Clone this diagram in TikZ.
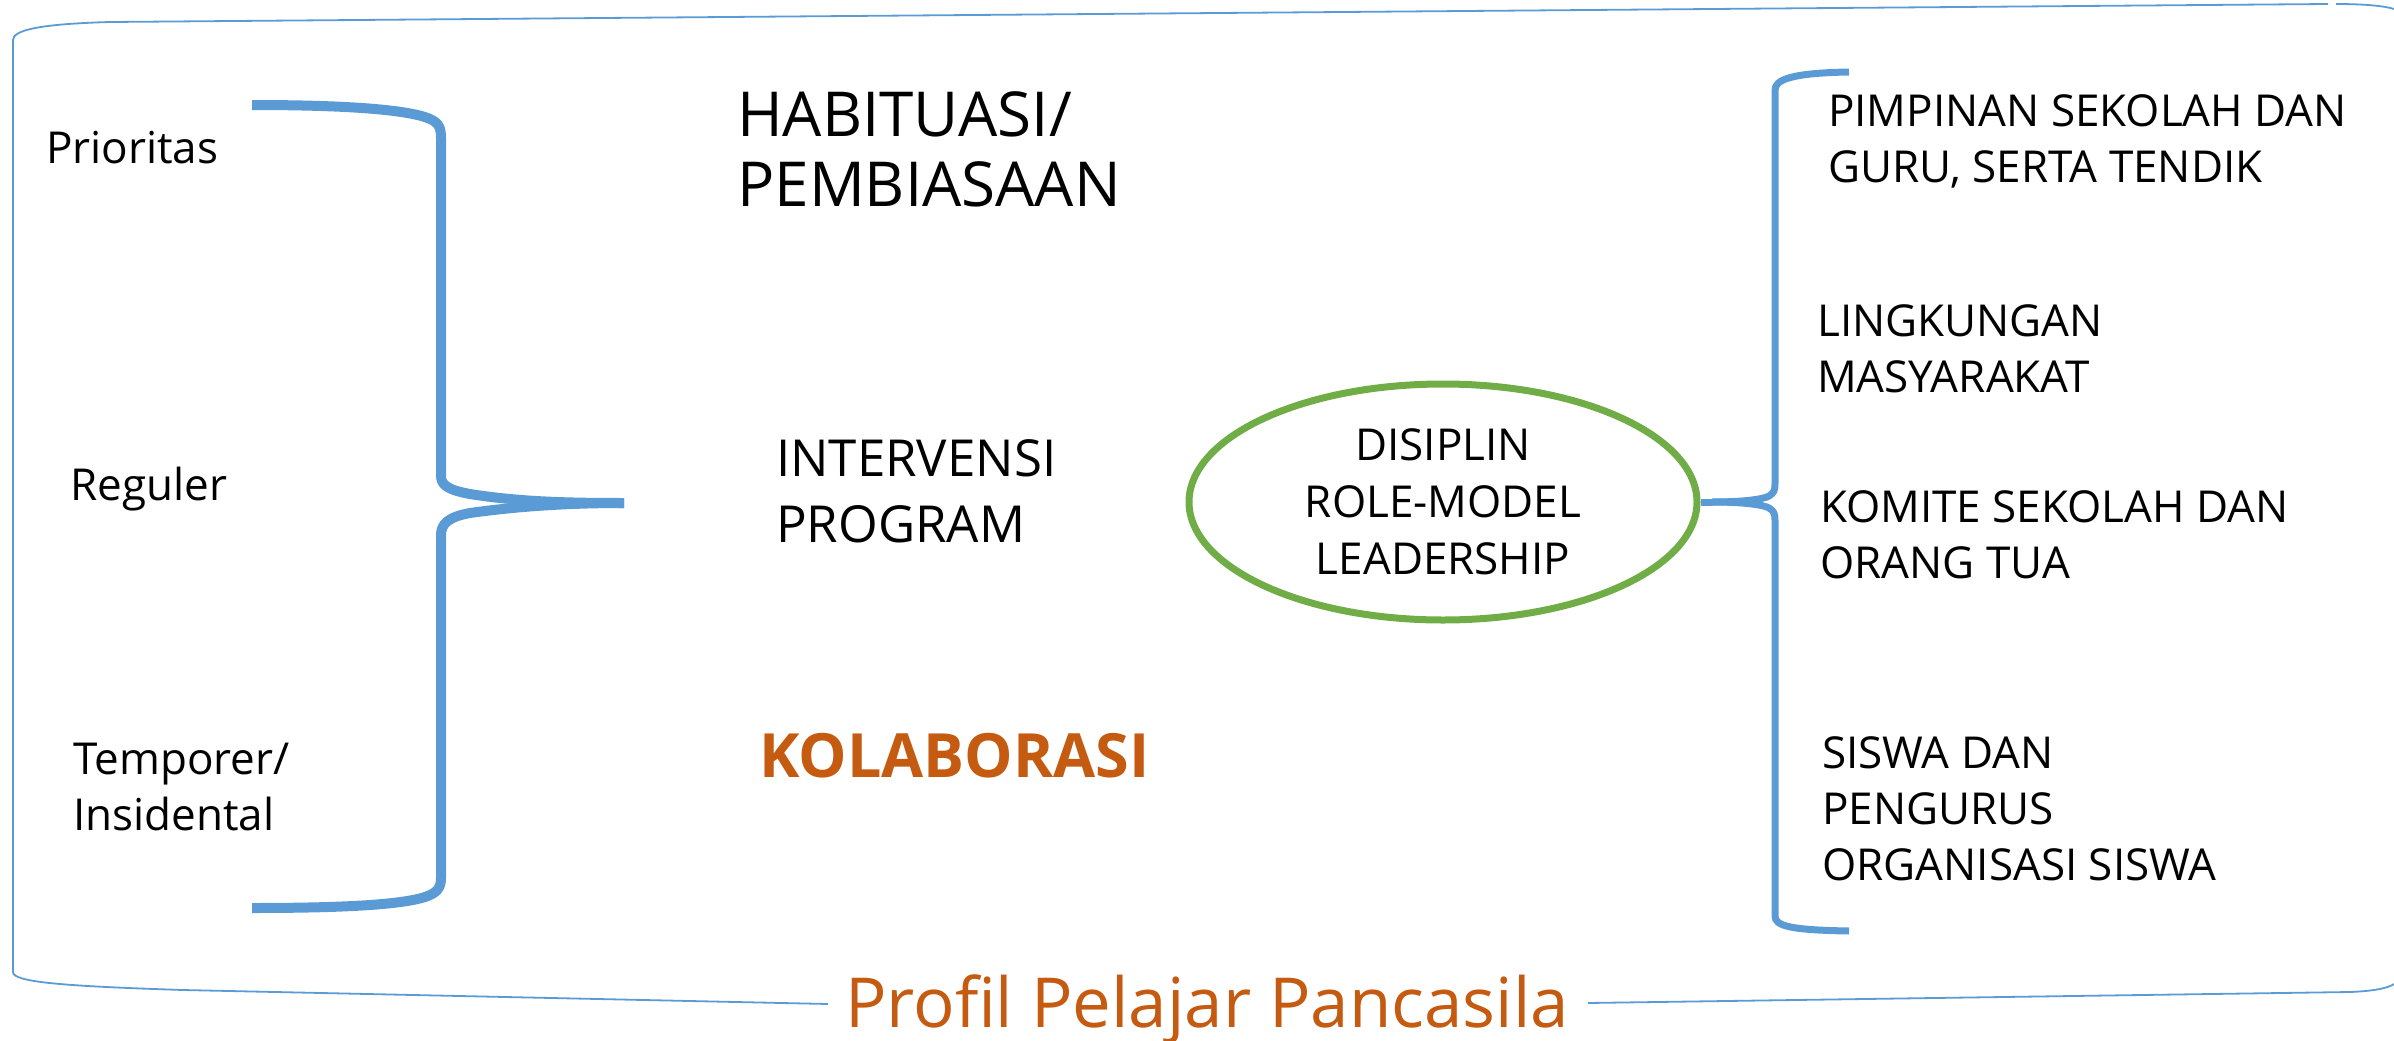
\documentclass[tikz,border=0pt]{standalone}
\usepackage{fontspec}
\setmainfont{Open Sans}
\usetikzlibrary{shapes.geometric}
\definecolor{bblue}{HTML}{5B9BD5}
\definecolor{fgreen}{HTML}{70AD47}
\definecolor{orng}{HTML}{C55A11}
\begin{document}
\begin{tikzpicture}[x=1pt,y=-1pt,
  lbl/.style={anchor=west, align=left, inner sep=0pt},
  frameline/.style={draw=bblue, line width=1.8pt},
  bigbrace/.style={draw=bblue, line width=10pt, line join=round},
  smallbrace/.style={draw=bblue, line width=7pt, line join=round},
  fsmall/.style={font=\fontsize{44}{56}\selectfont},
  fright/.style={font=\fontsize{44}{56}\selectfont}]
\useasboundingbox (0,0) rectangle (2394,1041);

% title
\node[font=\fontsize{69}{80}\selectfont, text=orng, anchor=base, inner sep=0pt] (title) at (1207,1027) {Profil Pelajar Pancasila};
\coordinate (fl) at (828,1004);
\coordinate (fr) at (1588,1003);

% frame
\draw[frameline] (fl) -- (183,990) .. controls (60,986) and (13,982) .. (13,972) -- (13,40) .. controls (13,30) and (40,24) .. (110,22) -- (2328,4);
\draw[frameline] (2336,4) .. controls (2365,4) and (2385,6) .. (2394,9);
\draw[frameline] (fr) -- (2350,992) .. controls (2375,991) and (2388,988) .. (2394,984);

% left labels
\node[lbl, fsmall] (prio) at (46,148) {Prioritas};
\node[lbl, fsmall] (reg) at (70,489) {Reguler};
\node[lbl, fsmall] (temp) at (73,787) {Temporer/\\Insidental};

% left brace
\coordinate (ltip) at (624,503);
\draw[bigbrace] (252,105) .. controls (350,105) and (410,110) .. (430,119) .. controls (439,123) and (441,128) .. (441,138) -- (441,476) .. controls (441,485) and (448,490) .. (470,494) .. controls (520,502) and (570,503) .. (ltip);
\draw[bigbrace] (ltip) .. controls (570,503) and (520,506) .. (470,513) .. controls (448,517) and (441,524) .. (441,535) -- (441,878) .. controls (441,888) and (437,893) .. (425,897) .. controls (400,905) and (340,908) .. (252,908);

% middle texts
\node[lbl, font=\fontsize{62}{70}\selectfont] (habit) at (737,149) {HABITUASI/\\PEMBIASAAN};
\node[lbl, font=\fontsize{51}{66}\selectfont] (interv) at (776,491) {INTERVENSI\\PROGRAM};
\node[lbl, font=\fontsize{61}{70}\selectfont\bfseries, text=orng] (kolab) at (759,756) {KOLABORASI};

% ellipse
\node[ellipse, draw=fgreen, line width=7pt, minimum width=508pt, minimum height=236pt, inner sep=0pt, align=center, font=\fontsize{44}{57}\selectfont] (ell) at (1443,502) {DISIPLIN\\ROLE-MODEL\\LEADERSHIP};

% right brace
\coordinate (rj) at (1712,502);
\draw[smallbrace] (ell.east) -- (rj);
\draw[smallbrace] (rj) .. controls (1745,502) and (1764,499) .. (1769,496) .. controls (1774,493) and (1775,490) .. (1775,484) -- (1775,90) .. controls (1775,80) and (1790,73) .. (1849,72);
\draw[smallbrace] (rj) .. controls (1745,502) and (1764,505) .. (1769,508) .. controls (1774,511) and (1775,514) .. (1775,520) -- (1775,916) .. controls (1775,926) and (1790,930) .. (1849,931);

% right labels
\node[lbl, fright] (pimp) at (1828,141) {PIMPINAN SEKOLAH DAN\\GURU, SERTA TENDIK};
\node[lbl, fright] (lingk) at (1817,349) {LINGKUNGAN\\MASYARAKAT};
\node[lbl, fright] (komite) at (1820,535) {KOMITE SEKOLAH DAN\\ORANG TUA};
\node[lbl, fright] (siswa) at (1822,809) {SISWA DAN\\PENGURUS\\ORGANISASI SISWA};
\end{tikzpicture}
\end{document}
